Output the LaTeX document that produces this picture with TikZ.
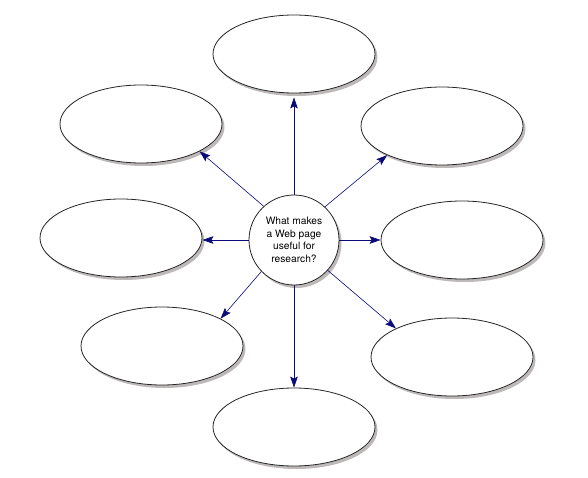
\documentclass[tikz,border=0pt]{standalone}
\usepackage{fontspec}
\setmainfont{TeX Gyre Heros}
\usetikzlibrary{shapes.geometric,shadows,arrows.meta}
\definecolor{arrownavy}{RGB}{10,10,120}
\definecolor{shadowgray}{RGB}{125,115,115}
\tikzset{
  bubble/.style={ellipse, draw=black!85, line width=0.8pt, fill=white,
    minimum width=162pt, minimum height=78pt, inner sep=0pt,
    drop shadow={shadow xshift=2.5pt, shadow yshift=-3pt, fill=shadowgray}},
  hub/.style={circle, draw=black!85, line width=0.8pt, fill=white,
    minimum size=90pt, inner sep=0pt, align=center,
    font=\fontsize{10.2}{12.6}\selectfont,
    drop shadow={shadow xshift=2.5pt, shadow yshift=-3pt, fill=shadowgray}},
  spoke/.style={draw=arrownavy, line width=0.6pt,
    -{Stealth[length=11pt,width=7.5pt,inset=2pt,fill=arrownavy]}}
}
\begin{document}
\begin{tikzpicture}[x=1pt,y=-1pt]
\useasboundingbox (0,0) rectangle (588,478);
\node[bubble] (top) at (294,54) {};
\node[bubble] (ul) at (141,124) {};
\node[bubble] (ur) at (442,126) {};
\node[bubble] (ml) at (121,238) {};
\node[bubble] (mr) at (462,240) {};
\node[bubble] (ll) at (162,346) {};
\node[bubble] (lr) at (452,357) {};
\node[bubble] (bot) at (294,427) {};
\node[hub] (c) at (294,240) {What makes\\a Web page\\useful for\\research?};
\draw[spoke, shorten >=4pt] (c.north) -- (top.south);
\draw[spoke] (c.132) -- (ul.-25);
\draw[spoke] (c.47) -- (ur.-152);
\draw[spoke] (c.west) -- (ml.east |- c.west);
\draw[spoke] (c.east) -- (mr.west |- c.east);
\draw[spoke] (c.224) -- (ll.25);
\draw[spoke] (c.-42) -- (lr.153);
\draw[spoke] (c.south) -- (bot.north);
\end{tikzpicture}
\end{document}
